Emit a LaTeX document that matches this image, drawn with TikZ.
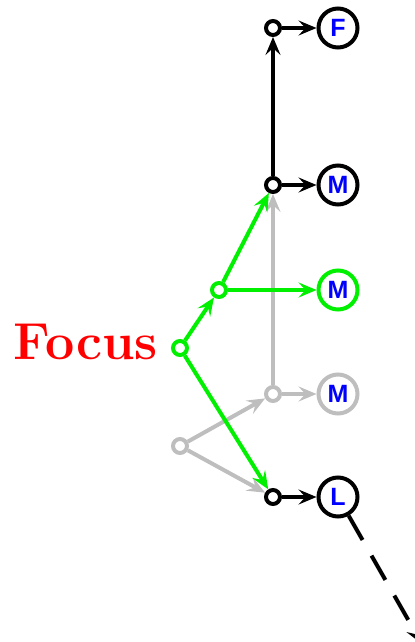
\documentclass[tikz,border=0pt]{standalone}
\usepackage{fontspec}
\newfontfamily\lblfont{Liberation Sans}
\usetikzlibrary{arrows.meta}
\definecolor{hlgreen}{RGB}{0,240,0}
\definecolor{fadegray}{RGB}{190,190,190}
\tikzstyle{dot} = [
    circle,
    minimum size=7pt,
    inner sep=0pt,
    line width=2pt,
    draw=black,
    fill=white
]
\tikzstyle{state} = [
    circle,
    minimum size=19.5pt,
    inner sep=0pt,
    line width=2pt,
    draw=black,
    font=\lblfont\bfseries\fontsize{12.5}{14}\selectfont,
    text=blue
]
\tikzstyle{arrow} = [line width=2pt,-{Stealth[length=9pt,width=7.5pt,inset=3.5pt]}]

\begin{document}
\begin{tikzpicture}[x=0.5pt,y=-0.5pt]
\useasboundingbox (0,0) rectangle (415,642);

\node (dtop) [dot] at (273,28) {};
\node (F) [state] at (338,28) {F};

\node (dmid) [dot] at (273,185) {};
\node (Mtop) [state] at (338,185) {M};

\node (dgreen) [dot, draw=hlgreen] at (219,290) {};
\node (Mgreen) [state, draw=hlgreen] at (338,290) {M};

\node (focus) [dot, draw=hlgreen] at (180,348) {};
\node (focuslbl) [anchor=base east, inner sep=0pt, text=red,
    font=\bfseries\fontsize{26}{30}\selectfont] at (158,359) {Focus};

\node (dgray) [dot, draw=fadegray] at (273,394) {};
\node (Mgray) [state, draw=fadegray] at (338,394) {M};

\node (dold) [dot, draw=fadegray] at (180,446) {};

\node (dlow) [dot] at (273,497) {};
\node (L) [state] at (338,497) {L};

\coordinate (away) at (422,644);

% faded branch
\draw [arrow, fadegray] (dold) -- (dgray);
\draw [arrow, fadegray] (dold) -- (dlow);
\draw [arrow, fadegray] (dgray) -- (dmid);
\draw [arrow, fadegray] (dgray) -- (Mgray);

% focus branch
\draw [arrow, hlgreen] (focus) -- (dgreen);
\draw [arrow, hlgreen] (dgreen) -- (Mgreen);
\draw [arrow, hlgreen] (dgreen) -- (dmid);
\draw [arrow, hlgreen] (focus) -- (dlow);

% black chain
\draw [arrow] (dmid) -- (dtop);
\draw [arrow] (dtop) -- (F);
\draw [arrow] (dmid) -- (Mtop);
\draw [arrow] (dlow) -- (L);
\draw [arrow, dash pattern=on 14pt off 9pt] (L) -- (away);

\end{tikzpicture}
\end{document}
